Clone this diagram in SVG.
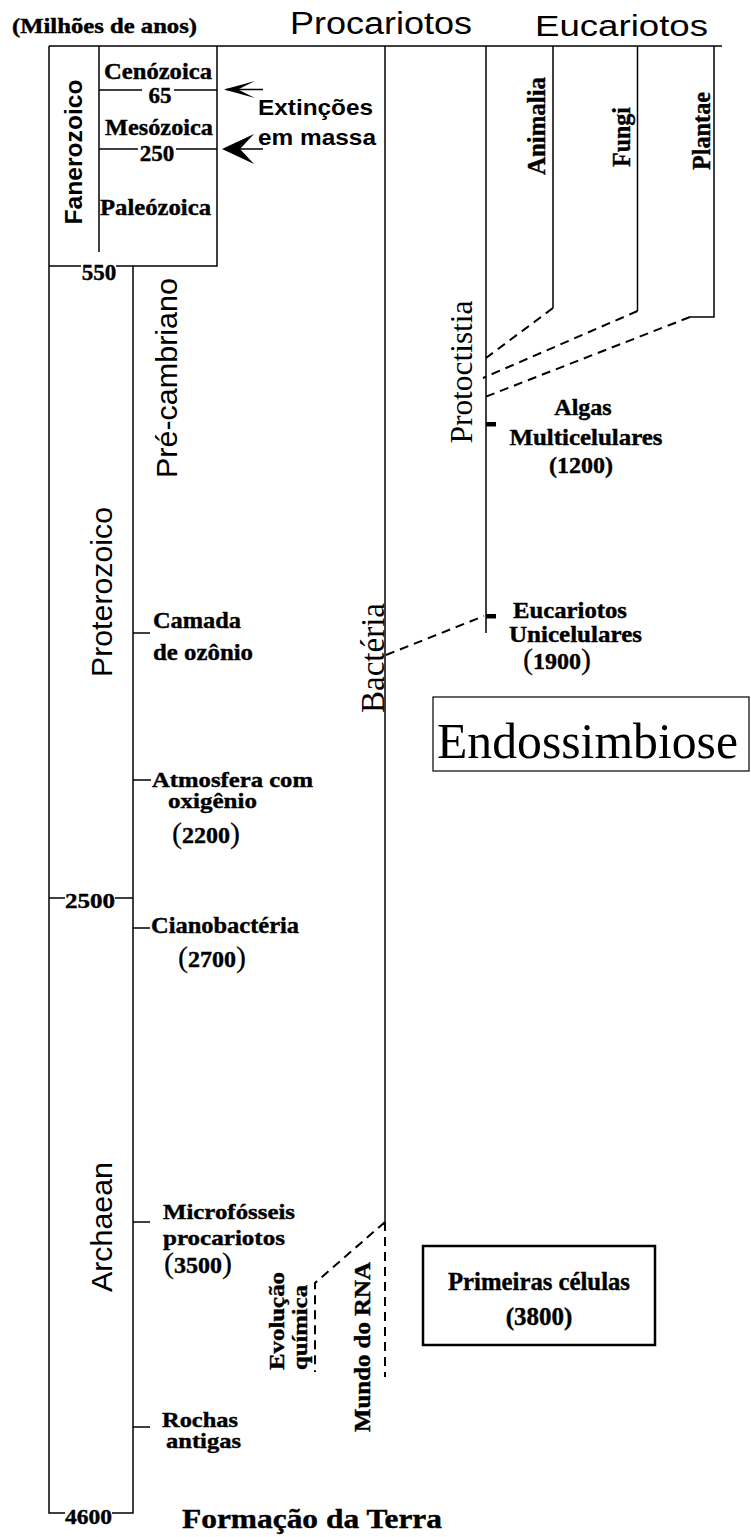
<svg xmlns="http://www.w3.org/2000/svg" width="751" height="1537" viewBox="0 0 751 1537">
<defs>
<style>
.ln{stroke:#000;stroke-width:1.5;fill:none}
.dash{stroke:#000;stroke-width:2;fill:none;stroke-dasharray:9 6}
.sb{font-family:"Liberation Serif","Times New Roman",serif;font-weight:bold;fill:#000;stroke:#000;stroke-width:0.4}
.sr{font-family:"Liberation Serif","Times New Roman",serif;font-weight:normal;fill:#000}
.ab{font-family:"Liberation Sans",Arial,sans-serif;font-weight:bold;fill:#000}
.ar{font-family:"Liberation Sans",Arial,sans-serif;font-weight:normal;fill:#000}
.pb{font-size:30px;font-weight:normal;stroke-width:0.2}
</style>
</defs>
<rect width="751" height="1537" fill="#fff"/>

<g id="connectors">
  <path class="ln" d="M49,46 H722"/>
  <path class="ln" d="M49,46 V1513 H65 M112,1513 H133 V266"/>
  <path class="ln" d="M217,46 V266 H116 M81,266 H49 M99,46 V252"/>
  <path class="ln" d="M99,90 H142 M174,90 H217 M99,149 H138 M176,149 H217"/>
  <path class="ln" d="M49,898 H65 M115,898 H133"/>
  <path class="ln" d="M133,633 H150 M133,780 H151 M133,928 H150 M133,1222 H150 M133,1427 H150"/>
  <path class="ln" d="M385,46 V1222"/>
  <path class="ln" d="M486,46 V633"/>
  <path d="M486,422 H496 V426.5 H486 Z M486,614 H496 V618.5 H486 Z" fill="#000"/>
  <path class="ln" d="M553,46 V308 M637.5,46 V311 M714,46 V317 H690"/>
  <path class="dash" d="M553,308 L486,358 M637.5,311 L483,378 M690,317 L485,397"/>
  <path class="dash" d="M386,655 L484,616"/>
  <path class="dash" d="M385,1222 V1377 M385,1222 L315,1283 V1372"/>
  <path class="ln" d="M226,89.5 H263"/>
  <path d="M224,89.5 L255,81 L238,89.5 L255,98 Z" fill="#000"/>
  <path class="ln" d="M226,149 H263"/>
  <path d="M222,149 L254,134 L240,149 L254,164 Z" fill="#000"/>
</g>

<g id="header">
  <text class="sb" x="12" y="33" font-size="20" textLength="185" lengthAdjust="spacingAndGlyphs">(Milhões de anos)</text>
  <text class="ar" x="290" y="34" font-size="31" textLength="182" lengthAdjust="spacingAndGlyphs">Procariotos</text>
  <text class="ar" x="535" y="36" font-size="30" textLength="173" lengthAdjust="spacingAndGlyphs">Eucariotos</text>
</g>

<g id="fanerozoico">
  <text class="ab" transform="translate(82,152) rotate(-90)" text-anchor="middle" font-size="24" textLength="145" lengthAdjust="spacingAndGlyphs">Fanerozoico</text>
  <text class="sb" x="104" y="79" font-size="23" textLength="108" lengthAdjust="spacingAndGlyphs">Cenózoica</text>
  <text class="sb" x="160" y="103" font-size="23" text-anchor="middle">65</text>
  <text class="sb" x="105" y="135" font-size="23" textLength="108" lengthAdjust="spacingAndGlyphs">Mesózoica</text>
  <text class="sb" x="157" y="161" font-size="23" text-anchor="middle">250</text>
  <text class="sb" x="100" y="215" font-size="23" textLength="111" lengthAdjust="spacingAndGlyphs">Paleózoica</text>
  <text class="sb" x="99" y="280" font-size="23" text-anchor="middle">550</text>
</g>

<g id="extincoes">
  <text class="ab" x="258" y="115" font-size="22" textLength="115" lengthAdjust="spacingAndGlyphs">Extinções</text>
  <text class="ab" x="258" y="145" font-size="22" textLength="118" lengthAdjust="spacingAndGlyphs">em massa</text>
</g>

<g id="eras">
  <text class="ar" transform="translate(177,378) rotate(-90)" text-anchor="middle" font-size="30" textLength="200" lengthAdjust="spacingAndGlyphs">Pré-cambriano</text>
  <text class="ar" transform="translate(112,592) rotate(-90)" text-anchor="middle" font-size="30" textLength="170" lengthAdjust="spacingAndGlyphs">Proterozoico</text>
  <text class="ar" transform="translate(112,1227) rotate(-90)" text-anchor="middle" font-size="30" textLength="130" lengthAdjust="spacingAndGlyphs">Archaean</text>
  <text class="sb" x="90" y="908" font-size="22" text-anchor="middle" textLength="50" lengthAdjust="spacingAndGlyphs">2500</text>
  <text class="sb" x="88.5" y="1524" font-size="22" text-anchor="middle" textLength="47" lengthAdjust="spacingAndGlyphs">4600</text>
</g>

<g id="bacteria">
  <text class="sr" transform="translate(384,658) rotate(-90)" text-anchor="middle" font-size="33" textLength="110" lengthAdjust="spacingAndGlyphs">Bactéria</text>
</g>

<g id="protoctistia">
  <text class="sr" transform="translate(472,372) rotate(-90)" text-anchor="middle" font-size="32" textLength="143" lengthAdjust="spacingAndGlyphs">Protoctistia</text>
</g>

<g id="animalia">
  <text class="sb" transform="translate(545,126) rotate(-90)" text-anchor="middle" font-size="26" textLength="98" lengthAdjust="spacingAndGlyphs">Animalia</text>
</g>
<g id="fungi">
  <text class="sb" transform="translate(630,137) rotate(-90)" text-anchor="middle" font-size="26" textLength="60" lengthAdjust="spacingAndGlyphs">Fungi</text>
</g>
<g id="plantae">
  <text class="sb" transform="translate(710,131) rotate(-90)" text-anchor="middle" font-size="26" textLength="78" lengthAdjust="spacingAndGlyphs">Plantae</text>
</g>

<g id="algas">
  <text class="sb" x="583" y="415" font-size="24" text-anchor="middle">Algas</text>
  <text class="sb" x="586" y="445" font-size="24" text-anchor="middle" textLength="153" lengthAdjust="spacingAndGlyphs">Multicelulares</text>
  <text class="sb" x="581" y="473" font-size="24" text-anchor="middle">(1200)</text>
</g>

<g id="eucariotos-unicelulares">
  <text class="sb" x="513" y="618" font-size="24" textLength="114" lengthAdjust="spacingAndGlyphs">Eucariotos</text>
  <text class="sb" x="509" y="642" font-size="24" textLength="133" lengthAdjust="spacingAndGlyphs">Unicelulares</text>
  <text class="sb" x="557" y="669" font-size="24" text-anchor="middle"><tspan class="pb">(</tspan>1900<tspan class="pb">)</tspan></text>
</g>

<g id="endossimbiose">
  <rect x="433" y="697" width="316" height="74" fill="none" stroke="#000" stroke-width="1.2"/>
  <text class="sr" x="437" y="758" font-size="50" textLength="301" lengthAdjust="spacingAndGlyphs">Endossimbiose</text>
</g>

<g id="camada-ozonio">
  <text class="sb" x="153" y="628" font-size="24" textLength="88" lengthAdjust="spacingAndGlyphs">Camada</text>
  <text class="sb" x="153" y="660" font-size="24" textLength="100" lengthAdjust="spacingAndGlyphs">de ozônio</text>
</g>

<g id="atmosfera">
  <text class="sb" x="152" y="787" font-size="22" textLength="161" lengthAdjust="spacingAndGlyphs">Atmosfera com</text>
  <text class="sb" x="168" y="808" font-size="22" textLength="89" lengthAdjust="spacingAndGlyphs">oxigênio</text>
  <text class="sb" x="206" y="843" font-size="24" text-anchor="middle"><tspan class="pb">(</tspan>2200<tspan class="pb">)</tspan></text>
</g>

<g id="cianobacteria">
  <text class="sb" x="151" y="933" font-size="24" textLength="148" lengthAdjust="spacingAndGlyphs">Cianobactéria</text>
  <text class="sb" x="212" y="967" font-size="24" text-anchor="middle"><tspan class="pb">(</tspan>2700<tspan class="pb">)</tspan></text>
</g>

<g id="microfosseis">
  <text class="sb" x="163" y="1219" font-size="22" textLength="132" lengthAdjust="spacingAndGlyphs">Microfósseis</text>
  <text class="sb" x="163" y="1245" font-size="22" textLength="122" lengthAdjust="spacingAndGlyphs">procariotos</text>
  <text class="sb" x="198" y="1273" font-size="24" text-anchor="middle"><tspan class="pb">(</tspan>3500<tspan class="pb">)</tspan></text>
</g>

<g id="rochas">
  <text class="sb" x="162" y="1427" font-size="22" textLength="76" lengthAdjust="spacingAndGlyphs">Rochas</text>
  <text class="sb" x="166" y="1448" font-size="22" textLength="75" lengthAdjust="spacingAndGlyphs">antigas</text>
</g>

<g id="evolucao-quimica">
  <text class="sb" transform="translate(284,1370) rotate(-90)" font-size="22" textLength="98" lengthAdjust="spacingAndGlyphs">Evolução</text>
  <text class="sb" transform="translate(307,1370) rotate(-90)" font-size="22" textLength="85" lengthAdjust="spacingAndGlyphs">química</text>
</g>

<g id="mundo-rna">
  <text class="sb" transform="translate(370,1347) rotate(-90)" text-anchor="middle" font-size="23" textLength="170" lengthAdjust="spacingAndGlyphs">Mundo do RNA</text>
</g>

<g id="primeiras-celulas">
  <rect x="423" y="1246" width="232" height="99" fill="none" stroke="#000" stroke-width="2.5"/>
  <text class="sb" x="539" y="1290" font-size="25" text-anchor="middle" textLength="182" lengthAdjust="spacingAndGlyphs">Primeiras células</text>
  <text class="sb" x="539" y="1325" font-size="25" text-anchor="middle">(3800)</text>
</g>

<g id="formacao-terra">
  <text class="sb" x="182" y="1528" font-size="27" textLength="260" lengthAdjust="spacingAndGlyphs">Formação da Terra</text>
</g>
</svg>
